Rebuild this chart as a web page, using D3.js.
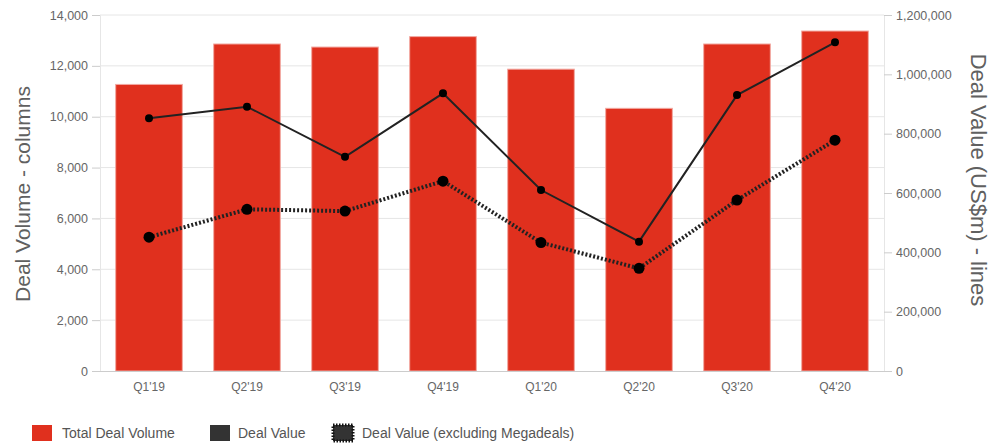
<!DOCTYPE html>
<html><head><meta charset="utf-8">
<script src="https://cdn.jsdelivr.net/npm/d3@7"></script>
<style>body{margin:0;background:#fff;font-family:"Liberation Sans",Arial,sans-serif;}</style>
</head><body><svg id="c" width="1000" height="444"></svg>
<script>
const categories = ["Q1'19","Q2'19","Q3'19","Q4'19","Q1'20","Q2'20","Q3'20","Q4'20"];
const dealVolume = [11270, 12860, 12740, 13150, 11870, 10330, 12860, 13370];
const dealValue = [852000, 891000, 722000, 936000, 610000, 436000, 930000, 1108000];
const dealValueExMega = [451000, 545000, 539000, 640000, 433000, 346000, 576000, 778000];
const leftTicks = [0, 2000, 4000, 6000, 8000, 10000, 12000, 14000];
const rightTicks = [0, 200000, 400000, 600000, 800000, 1000000, 1200000];
const legendLabels = ["Total Deal Volume", "Deal Value", "Deal Value (excluding Megadeals)"];

const svg = d3.select("#c");
const m = {l:100, r:884, t:15, b:371};
const x = d3.scaleBand().domain(categories).range([m.l, m.r]).paddingInner(0.32).paddingOuter(0.16);
const yL = d3.scaleLinear().domain([0, 14000]).range([m.b, m.t]);
const yR = d3.scaleLinear().domain([0, 1200000]).range([m.b, m.t]);
const fmt = d3.format(",");

// gridlines
svg.append("g").selectAll("line").data(leftTicks.slice(1)).join("line")
  .attr("x1", m.l).attr("x2", m.r).attr("y1", d=>yL(d)).attr("y2", d=>yL(d))
  .attr("stroke", "#e6e6e6").attr("stroke-width", 1);

// left axis
const gL = svg.append("g").attr("transform", `translate(${m.l},0)`)
  .call(d3.axisLeft(yL).tickValues(leftTicks).tickFormat(fmt).tickSize(8).tickPadding(4));
gL.select(".domain").attr("stroke", "#e6e6e6");
gL.selectAll(".tick line").attr("stroke", "#ccc");
gL.selectAll("text").attr("fill", "#666").style("font-size", "12.5px").style("font-family", "Liberation Sans, Arial, sans-serif");

// right axis
const gR = svg.append("g").attr("transform", `translate(${m.r},0)`)
  .call(d3.axisRight(yR).tickValues(rightTicks).tickFormat(fmt).tickSize(8).tickPadding(4));
gR.select(".domain").attr("stroke", "#e6e6e6");
gR.selectAll(".tick line").attr("stroke", "#ccc");
gR.selectAll("text").attr("fill", "#666").style("font-size", "12.5px").style("font-family", "Liberation Sans, Arial, sans-serif");

// bars
svg.append("g").selectAll("rect").data(dealVolume).join("rect")
  .attr("x", (d,i)=>x(categories[i])).attr("width", x.bandwidth())
  .attr("y", d=>yL(d)).attr("height", d=>yL(0)-yL(d))
  .attr("fill", "#e0301e").attr("stroke", "#f2a9a2").attr("stroke-width", 1);

// x axis
const gX = svg.append("g").attr("transform", `translate(0,${m.b})`)
  .call(d3.axisBottom(x).tickSize(0).tickPadding(11));
gX.select(".domain").attr("stroke", "#ccc").attr("d", `M${m.l},0.5H${m.r}`);
gX.selectAll("text").attr("fill", "#666").style("font-size", "12px").style("font-family", "Liberation Sans, Arial, sans-serif");

const cx = (i)=>x(categories[i]) + x.bandwidth()/2;

// solid line
const line = d3.line().x((d,i)=>cx(i)).y(d=>yR(d));
svg.append("path").datum(dealValue).attr("d", line)
  .attr("fill", "none").attr("stroke", "#222").attr("stroke-width", 2);
svg.append("g").selectAll("circle").data(dealValue).join("circle")
  .attr("cx", (d,i)=>cx(i)).attr("cy", d=>yR(d)).attr("r", 4).attr("fill", "#000");

// dotted line
svg.append("path").datum(dealValueExMega).attr("d", line)
  .attr("fill", "none").attr("stroke", "#222").attr("stroke-width", 4).attr("stroke-dasharray", "2,2");
svg.append("g").selectAll("circle").data(dealValueExMega).join("circle")
  .attr("cx", (d,i)=>cx(i)).attr("cy", d=>yR(d)).attr("r", 5.5).attr("fill", "#000");

// axis titles
svg.append("text").attr("transform", `translate(30,194) rotate(-90)`)
  .attr("text-anchor", "middle").attr("fill", "#606060").style("font-size", "21px")
  .text("Deal Volume - columns");
svg.append("text").attr("transform", `translate(971,180) rotate(90)`)
  .attr("text-anchor", "middle").attr("fill", "#606060").style("font-size", "22px")
  .text("Deal Value (US$m) - lines");

// legend
const lg = svg.append("g").attr("transform", "translate(0,425)");
const items = [{x:32, tx:62, fill:"#e0301e", dotted:false},
               {x:210, tx:238, fill:"#333", dotted:false},
               {x:333, tx:362, fill:"#333", dotted:true}];
items.forEach((it,i)=>{
  lg.append("rect").attr("x", it.x).attr("y", 0).attr("width", 20).attr("height", 16)
    .attr("fill", it.fill).attr("stroke", it.dotted ? "#111" : "none")
    .attr("stroke-width", it.dotted ? 3 : 0).attr("stroke-dasharray", it.dotted ? "1.5,1.5" : null);
  lg.append("text").attr("x", it.tx).attr("y", 13).attr("fill", "#555").style("font-size", "14px")
    .text(legendLabels[i]);
});
</script></body></html>
